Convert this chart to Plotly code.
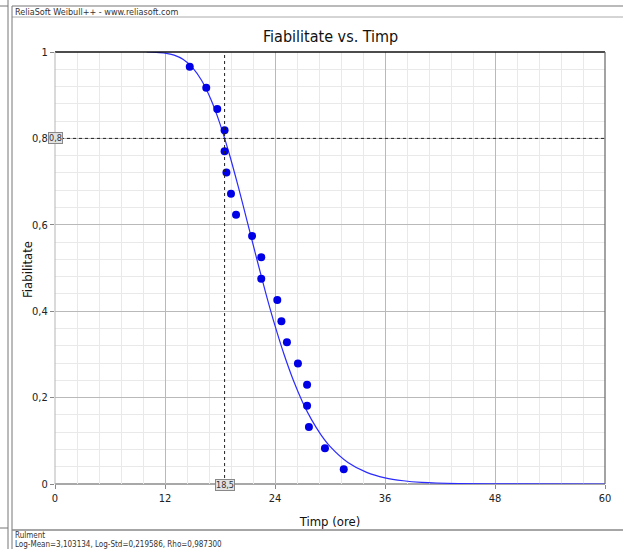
import plotly.graph_objects as go

# ---- data ----
fail_times = [14.7, 16.5, 17.7, 18.5, 18.5, 18.7, 19.2, 19.75, 21.5, 22.5,
              22.5, 24.25, 24.7, 25.3, 26.5, 27.5, 27.5, 27.7, 29.45, 31.5]
reliab_pts = [0.966, 0.917, 0.868, 0.819, 0.770, 0.721, 0.672, 0.623, 0.574, 0.525,
              0.475, 0.426, 0.377, 0.328, 0.279, 0.230, 0.181, 0.132, 0.083, 0.034]

curve_t = [10, 11, 12, 13, 14, 15, 16, 17, 18, 19, 20, 21, 22, 23, 24, 25, 26, 27,
           28, 29, 30, 32, 34, 36, 38, 40, 44, 50, 60]
curve_r = [1.0, 0.9993, 0.9976, 0.9929, 0.9827, 0.964, 0.934, 0.8905, 0.8337, 0.765,
           0.6876, 0.6052, 0.522, 0.4414, 0.3665, 0.2991, 0.2402, 0.1901, 0.1484,
           0.1145, 0.0873, 0.0493, 0.027, 0.0143, 0.0075, 0.0038, 0.001, 0.0001, 0.0]

x_ticks = [0, 12, 24, 36, 48, 60]
y_ticks = [0, 0.2, 0.4, 0.6, 0.8, 1]
y_tick_text = ["0", "0,2", "0,4", "0,6", "0,8", "1"]

ref_time = 18.5
ref_rel = 0.8

title = "Fiabilitate vs. Timp"
header = "ReliaSoft Weibull++ - www.reliasoft.com"
footer1 = "Rulment"
footer2 = "Log-Mean=3,103134, Log-Std=0,219586, Rho=0,987300"

# ---- layout geometry (pixels) ----
W, H = 623, 549
ML, MR, MT, MB = 55, 18, 52, 65
PW = W - ML - MR
PH = H - MT - MB


def px(x):
    return (x - ML) / PW


def py(y):
    return (H - MB - y) / PH


FONT = "DejaVu Sans Condensed, Liberation Sans, Arial, sans-serif"

fig = go.Figure()

fig.add_trace(go.Scatter(
    x=curve_t, y=curve_r, mode="lines",
    line=dict(color="#2b2bff", width=1.2, shape="spline", smoothing=0.8),
    hoverinfo="skip", showlegend=False))

fig.add_trace(go.Scatter(
    x=fail_times, y=reliab_pts, mode="markers",
    marker=dict(color="#0000e6", size=8, line=dict(width=0)),
    showlegend=False))

# reference dashed lines
fig.add_shape(type="line", xref="x", yref="y", x0=0, x1=60, y0=ref_rel, y1=ref_rel,
              line=dict(color="#222", width=1, dash="dot"))
fig.add_shape(type="line", xref="x", yref="y", x0=ref_time, x1=ref_time, y0=0, y1=1,
              line=dict(color="#222", width=1, dash="dot"))

# plot borders
fig.add_shape(type="line", xref="paper", yref="paper", x0=0, x1=1, y0=1, y1=1,
              line=dict(color="#111", width=1.5))
fig.add_shape(type="line", xref="paper", yref="paper", x0=1, x1=1, y0=0, y1=1,
              line=dict(color="#666", width=1.2))
fig.add_shape(type="line", xref="paper", yref="paper", x0=0, x1=0, y0=0, y1=1,
              line=dict(color="#b5b5b5", width=1))
fig.add_shape(type="line", xref="paper", yref="paper", x0=0, x1=1, y0=0, y1=0,
              line=dict(color="#a8a8a8", width=2), layer="below")

# outer frame lines
frame = [
    (0, 6, 8, 6, "#777", 1),
    (12, 6, W, 6, "#777", 1.2),
    (12, 17, W, 17, "#aaa", 1),
    (8, 0, 8, H, "#777", 1),
    (12, 6, 12, H, "#777", 1),
    (12, 530, W, 530, "#888", 1.5),
    (0, 528, 8, 528, "#777", 1),
]
for x0, y0, x1, y1, c, w in frame:
    fig.add_shape(type="line", xref="paper", yref="paper",
                  x0=px(x0), x1=px(x1), y0=py(y0), y1=py(y1),
                  line=dict(color=c, width=w))

# texts
fig.add_annotation(text=title, xref="paper", yref="paper", x=px(330), y=py(36),
                   xanchor="center", yanchor="middle", showarrow=False,
                   font=dict(family=FONT, size=16, color="#111"))
fig.add_annotation(text="Fiabilitate", xref="paper", yref="paper", x=px(27), y=py(270),
                   xanchor="center", yanchor="middle", textangle=-90, showarrow=False,
                   font=dict(family=FONT, size=13, color="#111"))
fig.add_annotation(text=header, xref="paper", yref="paper", x=px(13), y=py(12),
                   xanchor="left", yanchor="middle", showarrow=False,
                   font=dict(family=FONT, size=9, color="#333"))
fig.add_annotation(text=footer1, xref="paper", yref="paper", x=px(13), y=py(535),
                   xanchor="left", yanchor="middle", showarrow=False,
                   font=dict(family=FONT, size=8, color="#333"))
fig.add_annotation(text=footer2, xref="paper", yref="paper", x=px(13), y=py(544),
                   xanchor="left", yanchor="middle", showarrow=False,
                   font=dict(family=FONT, size=8, color="#333"))

# boxed reference labels
fig.add_annotation(text="0,8", xref="paper", yref="y", x=px(55), y=ref_rel,
                   xanchor="center", yanchor="middle",
                   showarrow=False, bgcolor="#e2e2e2", bordercolor="#888",
                   borderwidth=1, borderpad=0,
                   font=dict(family=FONT, size=9, color="#333"))
fig.add_annotation(text="18,5", xref="x", yref="paper", x=ref_time, y=py(485),
                   xanchor="center", yanchor="middle",
                   showarrow=False, bgcolor="#e2e2e2", bordercolor="#888",
                   borderwidth=1, borderpad=0,
                   font=dict(family=FONT, size=9, color="#333"))

fig.update_layout(
    width=W, height=H, autosize=False,
    margin=dict(l=ML, r=MR, t=MT, b=MB),
    paper_bgcolor="white", plot_bgcolor="white",
    showlegend=False,
    xaxis=dict(
        range=[0, 60], tickvals=x_ticks, ticktext=[str(v) for v in x_ticks],
        showgrid=True, gridcolor="#b9b9b9", gridwidth=1, zeroline=False,
        showline=False, ticks="outside", ticklen=4, tickcolor="#888",
        tickfont=dict(family=FONT, size=11, color="#222"),
        minor=dict(dtick=2.4, tick0=0, showgrid=True, gridcolor="#e9e9e9", ticks=""),
        title=dict(text="Timp (ore)", font=dict(family=FONT, size=13, color="#111"),
                   standoff=12),
        fixedrange=True,
    ),
    yaxis=dict(
        range=[0, 1], tickvals=y_ticks, ticktext=y_tick_text,
        showgrid=True, gridcolor="#b9b9b9", gridwidth=1, zeroline=False,
        showline=False, ticks="outside", ticklen=4, tickcolor="#888",
        tickfont=dict(family=FONT, size=11, color="#222"),
        minor=dict(dtick=0.04, tick0=0, showgrid=True, gridcolor="#e9e9e9", ticks=""),
        fixedrange=True,
    ),
)

fig.write_html("out.html")
